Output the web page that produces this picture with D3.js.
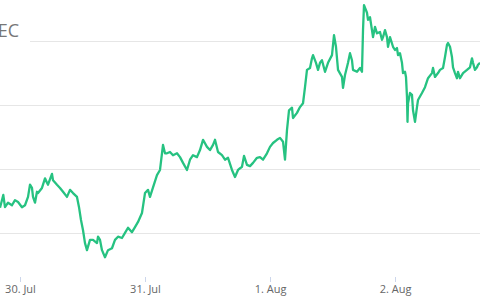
<!DOCTYPE html>
<html>
<head>
<meta charset="utf-8">
<script src="https://cdn.jsdelivr.net/npm/d3@7"></script>
<style>
  body { margin: 0; background: #fff; }
  svg { display: block; font-family: "Open Sans", sans-serif; }
</style>
</head>
<body>
<svg width="480" height="300"></svg>
<script>
// Hours after 30 Jul 00:00 and the series value at that time
const hours = [
  -3.84, -3.21, -2.88, -2.30, -1.54, -0.96, -0.38, 0.38, 0.96, 1.54,
  1.92, 2.30, 2.50, 2.88, 3.26, 3.46, 4.22, 4.80, 5.18, 5.38,
  6.14, 6.34, 7.10, 7.68, 8.26, 9.02, 9.60, 10.18, 10.94, 11.33,
  11.71, 12.10, 12.48, 12.86, 13.44, 14.02, 14.78, 14.98, 15.36, 15.74,
  16.32, 16.90, 17.66, 18.24, 18.82, 19.58, 20.16, 20.74, 21.50, 22.08,
  22.66, 23.42, 24.00, 24.58, 24.96, 25.54, 26.30, 26.88, 27.26, 27.46,
  27.84, 28.22, 28.80, 29.38, 30.14, 30.72, 31.30, 32.06, 32.64, 33.22,
  33.98, 34.56, 35.14, 35.90, 36.48, 37.06, 37.44, 38.02, 38.78, 39.36,
  39.94, 40.70, 41.28, 41.86, 42.62, 43.01, 43.58, 44.16, 44.74, 45.50,
  46.08, 46.66, 47.42, 48.00, 48.58, 49.34, 49.92, 50.50, 50.88, 51.26,
  51.65, 52.22, 52.42, 53.18, 53.76, 54.34, 54.72, 55.10, 55.68, 56.06,
  56.26, 56.83, 57.22, 57.60, 57.98, 58.56, 59.14, 59.90, 60.29, 60.67,
  61.06, 61.82, 62.02, 62.40, 62.98, 63.36, 63.74, 63.94, 64.70, 65.28,
  65.66, 65.86, 66.05, 66.62, 66.82, 67.20, 67.58, 67.78, 68.16, 68.54,
  69.12, 69.50, 69.70, 70.08, 70.46, 70.66, 71.04, 71.62, 72.00, 72.38,
  72.58, 72.96, 73.34, 73.54, 73.92, 74.11, 74.30, 74.40, 74.50, 74.88,
  75.26, 75.46, 75.84, 76.22, 76.42, 77.18, 77.76, 78.34, 79.10, 79.30,
  79.68, 80.26, 80.64, 81.22, 81.60, 81.98, 82.18, 82.56, 82.94, 83.14,
  83.52, 83.90, 84.10, 84.48, 85.06, 85.82, 86.40, 86.78, 86.98, 87.36,
  87.74, 87.94, 88.32
];
const values = [
  140, 160, 141, 148, 144, 152, 149, 141, 144, 157,
  176, 171, 157, 148, 165, 163, 171, 186, 179, 176,
  193, 183, 176, 171, 165, 157, 168, 163, 157, 141,
  121, 105, 85, 74, 90, 90, 85, 95, 90, 74,
  63, 74, 77, 90, 95, 93, 101, 109, 102, 110,
  118, 132, 163, 168, 157, 172, 191, 199, 225, 238,
  225, 225, 227, 222, 225, 219, 210, 199, 215, 222,
  219, 230, 246, 235, 230, 238, 246, 227, 222, 215,
  218, 199, 188, 199, 204, 221, 207, 205, 210, 218,
  219, 215, 225, 235, 241, 246, 249, 243, 215, 261,
  292, 296, 280, 288, 297, 303, 328, 355, 358, 373,
  378, 366, 355, 366, 370, 352, 366, 378, 409, 391,
  355, 344, 327, 347, 366, 381, 370, 355, 352, 358,
  352, 417, 456, 444, 433, 437, 417, 406, 422, 412,
  414, 402, 406, 417, 406, 391, 406, 391, 386, 389,
  378, 381, 366, 350, 352, 344, 313, 274, 303, 319,
  316, 292, 274, 297, 308, 319, 328, 342, 350, 358,
  344, 350, 355, 358, 375, 394, 397, 391, 375, 359,
  350, 342, 352, 342, 350, 355, 359, 373, 366, 355,
  359, 363, 366
];
const gridValues = [100, 200, 300, 400];
const axisTitle = "SEC";

const start = new Date(2021, 6, 30);
const data = hours.map((h, i) => ({ time: new Date(+start + h * 3600e3), value: values[i] }));

const svg = d3.select("svg"),
    width = +svg.attr("width");

// x: 30 Jul sits at 20px, one day is 125px
const x = d3.scaleTime()
    .domain([new Date(+start - 3.84 * 3600e3), new Date(+start + 88.32 * 3600e3)])
    .range([0, width]);
const y = d3.scaleLinear().domain([30, 400]).range([278.4, 41]);

// horizontal grid lines
svg.append("g")
  .selectAll("line")
  .data(gridValues)
  .join("line")
    .attr("x1", 0)
    .attr("x2", width)
    .attr("y1", d => Math.round(y(d)) + 0.5)
    .attr("y2", d => Math.round(y(d)) + 0.5)
    .attr("stroke", "#e6e6e6");

// cut-off axis title with its white box
svg.append("rect")
    .attr("x", 0).attr("y", 14).attr("width", 30).attr("height", 30)
    .attr("fill", "#fff");
svg.append("text")
    .attr("x", 19)
    .attr("y", 37)
    .attr("text-anchor", "end")
    .attr("fill", "#777")
    .attr("font-size", 18)
    .text(axisTitle);

// x axis
const xAxis = svg.append("g")
    .attr("transform", "translate(0,277)")
    .call(d3.axisBottom(x)
      .ticks(d3.timeDay.every(1))
      .tickFormat(d3.timeFormat("%-d. %b"))
      .tickSize(5)
      .tickPadding(3));
xAxis.select(".domain").remove();
xAxis.selectAll(".tick line").attr("stroke", "#ccd6eb");
xAxis.selectAll(".tick text")
    .attr("fill", "#666")
    .attr("font-size", 11)
    .attr("font-family", "Open Sans, sans-serif");

// the series line
const line = d3.line()
    .x(d => x(d.time))
    .y(d => y(d.value));

svg.append("path")
    .datum(data)
    .attr("fill", "none")
    .attr("stroke", "#26c281")
    .attr("stroke-width", 2.3)
    .attr("stroke-linejoin", "round")
    .attr("d", line);
</script>
</body>
</html>
